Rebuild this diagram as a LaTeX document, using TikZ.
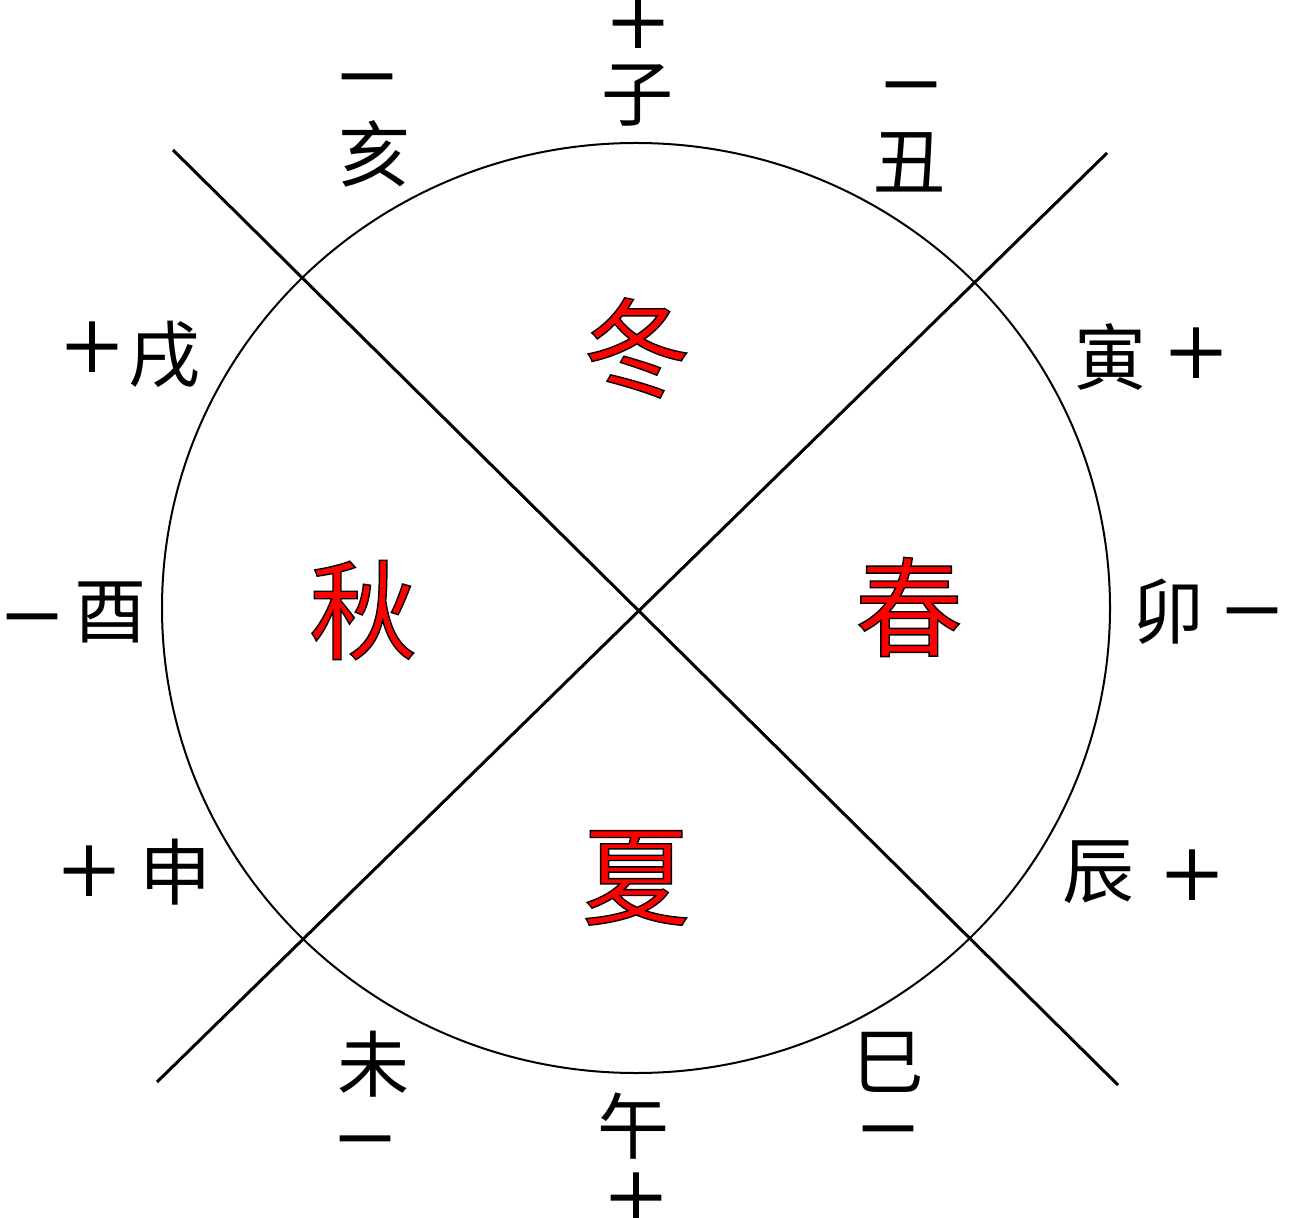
\documentclass[tikz,border=0pt]{standalone}
\usepackage{fontspec}
\usetikzlibrary{shapes.geometric}
\newfontfamily\cjk{Noto Sans CJK SC}
\newcommand\outlined[1]{\special{pdf:literal direct 2 Tr 0.7 w 0 0 0 RG}#1\special{pdf:literal direct 0 Tr}}
\newcommand\boldsign[1]{\special{pdf:literal direct 2 Tr 0.6 w 0 0 0 RG}#1\special{pdf:literal direct 0 Tr}}
\begin{document}
\begin{tikzpicture}[x=0.5pt,y=-0.5pt,
  branch/.style={font=\cjk\fontsize{36}{36}\selectfont, inner sep=0pt},
  sign/.style={font=\cjk\fontsize{34}{34}\selectfont, inner xsep=-6pt, inner ysep=-12pt},
  minus/.style={sign, yshift=-6pt},
  season/.style={font=\cjk\fontsize{54}{54}\selectfont, text=red, inner sep=0pt},
  axis/.style={line width=1.5pt},
  rim/.style={line width=1pt}]
\useasboundingbox (0,0) rectangle (1289,1218);
\node[draw, rim, ellipse, minimum width=474pt, minimum height=465pt, inner sep=0pt] (wheel) at (636,608) {};
\coordinate (a1) at (173,150);
\coordinate (a2) at (1118,1085);
\coordinate (b1) at (1107,153);
\coordinate (b2) at (157,1082);
\draw[axis] (a1) -- (a2);
\draw[axis] (b1) -- (b2);
% branches
\node[branch] (zi) at (637,95) {子};
\node[sign] (zis) at (638,23) {\boldsign{＋}};
\node[branch] (hai) at (374,154) {亥};
\node[minus] (hais) at (367,76) {\boldsign{－}};
\node[branch] (chou) at (909,162) {丑};
\node[minus] (chous) at (911,84) {\boldsign{－}};
\node[branch] (xu) at (164,355) {戌};
\node[sign] (xus) at (92,347) {\boldsign{＋}};
\node[branch] (yin) at (1110,357) {寅};
\node[sign] (yins) at (1196,353) {\boldsign{＋}};
\node[branch] (you) at (110,612) {酉};
\node[minus] (yous) at (32,616) {\boldsign{－}};
\node[branch] (mao) at (1168,612) {卯};
\node[minus] (maos) at (1252,610) {\boldsign{－}};
\node[branch] (shen) at (175,872) {申};
\node[sign] (shens) at (89,871) {\boldsign{＋}};
\node[branch] (chen) at (1098,872) {辰};
\node[sign] (chens) at (1192,875) {\boldsign{＋}};
\node[branch] (wei) at (373,1064) {未};
\node[minus] (weis) at (365,1138) {\boldsign{－}};
\node[branch] (wu) at (633,1126) {午};
\node[sign] (wus) at (636,1198) {\boldsign{＋}};
\node[branch] (si) at (888,1062) {巳};
\node[minus] (sis) at (888,1128) {\boldsign{－}};
% seasons
\node[season] (dong) at (637,348) {\outlined{冬}};
\node[season] (qiu) at (363,610) {\outlined{秋}};
\node[season] (chun) at (909,607) {\outlined{春}};
\node[season] (xia) at (636,878) {\outlined{夏}};
\end{tikzpicture}
\end{document}
